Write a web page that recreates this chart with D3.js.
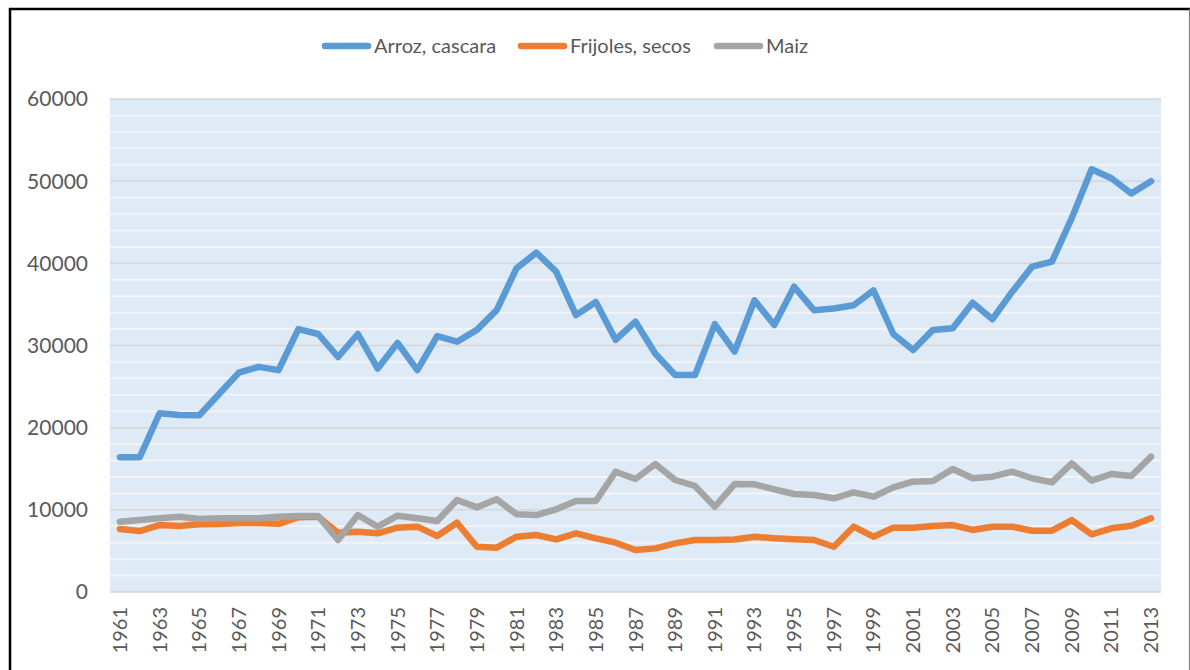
<!DOCTYPE html>
<html>
<head>
<meta charset="utf-8">
<script src="https://cdn.jsdelivr.net/npm/d3@7"></script>
<style>
  body { margin: 0; background: #fff; }
  svg { display: block; font-family: Lato, "Open Sans", sans-serif; }
</style>
</head>
<body>
<svg id="chart" width="1190" height="670"></svg>
<script>
// years 1961 - 2013
var years = d3.range(1961, 2014);

var arroz = [16400, 16400, 21750, 21550, 21500, 24100, 26700, 27400, 27000, 32000,
  31400, 28600, 31400, 27200, 30300, 27000, 31150, 30460, 31900, 34300,
  39400, 41300, 39000, 33700, 35300, 30700, 32900, 29000, 26400, 26400,
  32600, 29250, 35500, 32500, 37150, 34300, 34500, 34900, 36700, 31400,
  29450, 31900, 32100, 35200, 33200, 36550, 39600, 40200, 45500, 51450,
  50350, 48500, 50000];

var frijoles = [7670, 7420, 8150, 8030, 8240, 8280, 8400, 8400, 8300, 9100,
  9150, 7220, 7340, 7140, 7830, 7950, 6820, 8430, 5510, 5390,
  6730, 6940, 6410, 7140, 6530, 6000, 5110, 5310, 5920, 6330,
  6330, 6400, 6730, 6530, 6410, 6330, 5510, 7950, 6730, 7830,
  7830, 8030, 8150, 7550, 7950, 7950, 7460, 7460, 8760, 7020,
  7750, 8070, 8970];

var maiz = [8560, 8760, 8970, 9170, 8880, 8970, 8970, 8970, 9170, 9250,
  9250, 6330, 9370, 7950, 9290, 8970, 8640, 11200, 10300, 11280,
  9460, 9370, 10060, 11070, 11070, 14640, 13750, 15580, 13630, 12900,
  10380, 13140, 13100, 12500, 11930, 11800, 11400, 12130, 11600, 12740,
  13420, 13500, 14970, 13840, 14030, 14640, 13840, 13350, 15660, 13550,
  14360, 14120, 16470];

var series_names = ["Arroz, cascara", "Frijoles, secos", "Maiz"];
var series_colors = ["#5b9bd5", "#ed7d31", "#a5a5a5"];
var y_ticks = [0, 10000, 20000, 30000, 40000, 50000, 60000];

function draw_chart(){
	var svg = d3.select("#chart");
	var left = 110, right = 1161, top = 99, bottom = 592;

	// frame
	svg.append("line").attr("x1", 10).attr("x2", 10).attr("y1", 8).attr("y2", 670)
		.attr("stroke", "#000").attr("stroke-width", 2.5);
	svg.append("line").attr("x1", 9).attr("x2", 1190).attr("y1", 9).attr("y2", 9)
		.attr("stroke", "#000").attr("stroke-width", 2.5);
	svg.append("line").attr("x1", 1189.5).attr("x2", 1189.5).attr("y1", 9).attr("y2", 670)
		.attr("stroke", "#7f7f7f").attr("stroke-width", 1.2);

	var x = d3.scalePoint()
		.domain(years)
		.range([left, right])
		.padding(0.5);

	var y = d3.scaleLinear()
		.domain([0, 60000])
		.range([bottom, top]);

	// plot background
	svg.append("rect")
		.attr("x", left).attr("y", top)
		.attr("width", right - left).attr("height", bottom - top)
		.attr("fill", "#deeaf6");

	// minor gridlines every 2000
	svg.append("g").selectAll("line")
		.data(d3.range(2000, 60000, 2000).filter(function(v){ return v % 10000 != 0; }))
		.enter().append("line")
		.attr("x1", left).attr("x2", right)
		.attr("y1", function(d){ return y(d); })
		.attr("y2", function(d){ return y(d); })
		.attr("stroke", "#f2f4f8")
		.attr("stroke-width", 2);

	// major gridlines
	svg.append("g").selectAll("line")
		.data(y_ticks)
		.enter().append("line")
		.attr("x1", left).attr("x2", right)
		.attr("y1", function(d){ return y(d); })
		.attr("y2", function(d){ return y(d); })
		.attr("stroke", "#d6d6d6")
		.attr("stroke-width", 1.5);

	// y labels
	svg.append("g").selectAll("text")
		.data(y_ticks)
		.enter().append("text")
		.attr("x", 88)
		.attr("y", function(d){ return y(d); })
		.attr("dy", "0.35em")
		.attr("text-anchor", "end")
		.attr("font-size", "21px")
		.attr("fill", "#595959")
		.text(function(d){ return d; });

	// x labels, every other year
	svg.append("g").selectAll("text")
		.data(years.filter(function(d, i){ return i % 2 == 0; }))
		.enter().append("text")
		.attr("transform", function(d){ return "translate(" + x(d) + ",607) rotate(-90)"; })
		.attr("dy", "0.35em")
		.attr("text-anchor", "end")
		.attr("font-size", "20px")
		.attr("fill", "#595959")
		.text(function(d){ return d; });

	var line = d3.line()
		.x(function(d, i){ return x(years[i]); })
		.y(function(d){ return y(d); });

	var all_series = [arroz, frijoles, maiz];
	svg.append("g").selectAll("path")
		.data(all_series)
		.enter().append("path")
		.attr("d", line)
		.attr("fill", "none")
		.attr("stroke", function(d, i){ return series_colors[i]; })
		.attr("stroke-width", 6.5)
		.attr("stroke-linejoin", "round")
		.attr("stroke-linecap", "round");

	// legend
	var legend_x = [325, 521, 717];
	var lg = svg.append("g").selectAll("g")
		.data(series_names)
		.enter().append("g")
		.attr("transform", function(d, i){ return "translate(" + legend_x[i] + ",46)"; });
	lg.append("line")
		.attr("x1", 0).attr("x2", 43)
		.attr("stroke", function(d, i){ return series_colors[i]; })
		.attr("stroke-width", 6.5)
		.attr("stroke-linecap", "round");
	lg.append("text")
		.attr("x", 49)
		.attr("dy", "0.35em")
		.attr("font-size", "20px")
		.attr("fill", "#595959")
		.text(function(d){ return d; });
}

draw_chart();
</script>
</body>
</html>
